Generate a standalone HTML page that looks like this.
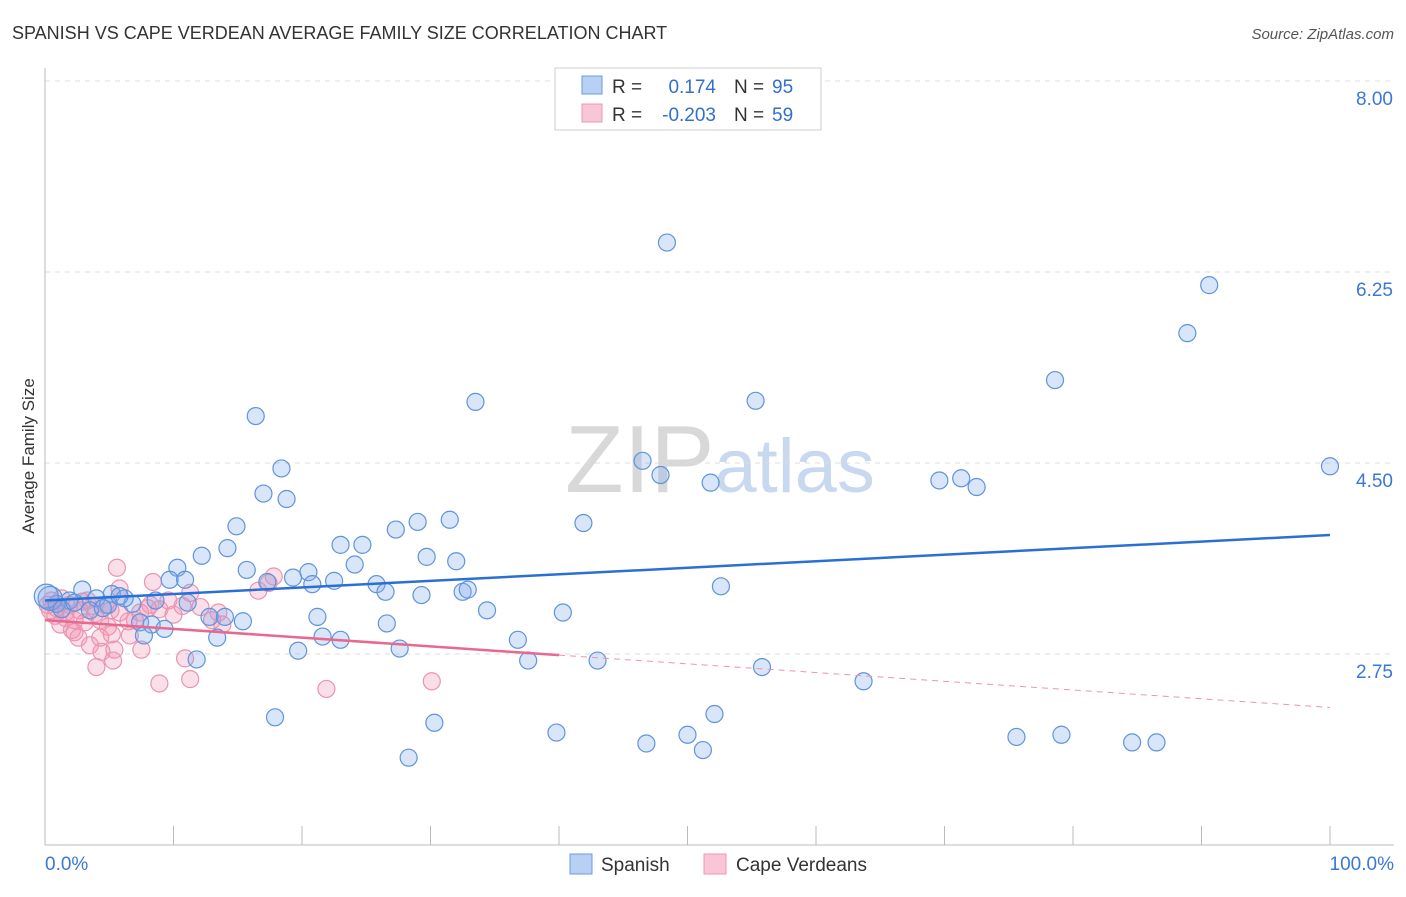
<!DOCTYPE html>
<html><head><meta charset="utf-8"><style>
body{margin:0;background:#fff;font-family:"Liberation Sans",sans-serif}
svg text{font-family:"Liberation Sans",sans-serif}
</style></head><body>
<svg id="c" width="1406" height="892">
<text x="12" y="39" font-size="18" fill="#333">SPANISH VS CAPE VERDEAN AVERAGE FAMILY SIZE CORRELATION CHART</text>
<text x="1394" y="39" font-size="15" fill="#555" font-style="italic" text-anchor="end">Source: ZipAtlas.com</text>
<text x="720" y="492" font-size="96" fill="#ddd" text-anchor="middle" font-family="Liberation Serif"><tspan fill="#d8d8d8">ZIP</tspan><tspan fill="#c8d8ee" font-family="Liberation Sans" font-size="76">atlas</tspan></text>
<text transform="translate(34,456) rotate(-90)" font-size="17" fill="#333" text-anchor="middle">Average Family Size</text>
<g id="grid"></g><g id="pts"></g><g id="lines"></g>
<g>
<rect x="555" y="68" width="266" height="62" fill="#fff" stroke="#ccc"/>
<rect x="582" y="76" width="20" height="18" fill="#b8d0f4" stroke="#6a9ce0"/>
<rect x="582" y="104" width="20" height="18" fill="#f8c6d6" stroke="#ec98b2"/>
<text x="612" y="93" font-size="19" fill="#333">R = </text><text x="716" y="93" font-size="19" fill="#2f6fd3" text-anchor="end">0.174</text>
<text x="734" y="93" font-size="19" fill="#333">N = </text><text x="772" y="93" font-size="19" fill="#2f6fd3">95</text>
<text x="612" y="121" font-size="19" fill="#333">R = </text><text x="716" y="121" font-size="19" fill="#2f6fd3" text-anchor="end">-0.203</text>
<text x="734" y="121" font-size="19" fill="#333">N = </text><text x="772" y="121" font-size="19" fill="#2f6fd3">59</text>
</g>
<g>
<rect x="570" y="854" width="22" height="20" fill="#b8d0f4" stroke="#6a9ce0"/>
<text x="601" y="871" font-size="19" fill="#333">Spanish</text>
<rect x="704" y="854" width="22" height="20" fill="#f8c6d6" stroke="#ec98b2"/>
<text x="736" y="871" font-size="19" fill="#333">Cape Verdeans</text>
</g>
</svg>
<script>
const yTicks=[8.00,6.25,4.50,2.75];
const xTickLabels=["0.0%","100.0%"];
const spanishX=[48.4,90.6,88.9,78.6,55.3,33.5,16.4,18.4,46.5,47.9,51.8,69.6,71.3,72.5,100,17.0,18.8,14.9,29.0,31.5,41.9,27.3,23.0,24.7,24.1,12.2,14.2,10.3,15.7,29.7,32.0,20.5,19.3,9.7,10.9,17.3,20.8,22.5,25.8,26.5,29.3,32.5,32.9,52.6,34.4,40.3,21.2,26.6,6.8,8.6,11.1,12.8,14.0,15.4,7.4,8.3,9.3,7.7,13.4,21.6,23.0,36.8,19.7,27.6,11.8,37.6,43.0,55.8,63.7,17.9,30.3,39.8,46.8,50.0,51.2,52.1,28.3,75.6,79.1,84.6,86.5,2.9,4.0,5.2,6.2,4.9,1.9,0.9,0.4,1.3,3.5,4.5,0.1,2.3,5.8];
const spanishY=[6.52,6.13,5.69,5.26,5.07,5.06,4.93,4.45,4.52,4.39,4.32,4.34,4.36,4.28,4.47,4.22,4.17,3.92,3.96,3.98,3.95,3.89,3.75,3.75,3.57,3.65,3.72,3.54,3.52,3.64,3.60,3.50,3.45,3.43,3.43,3.41,3.39,3.42,3.39,3.32,3.29,3.32,3.34,3.37,3.15,3.13,3.09,3.03,3.21,3.24,3.22,3.09,3.09,3.05,3.04,3.02,2.98,2.92,2.90,2.91,2.88,2.88,2.78,2.80,2.70,2.69,2.69,2.63,2.50,2.17,2.12,2.03,1.93,2.01,1.87,2.20,1.80,1.99,2.01,1.94,1.94,3.34,3.26,3.30,3.26,3.20,3.24,3.21,3.26,3.16,3.15,3.17,3.28,3.22,3.28];
const capeX=[5.6,8.4,5.8,11.3,16.6,17.4,17.8,8.2,8.9,10.0,12.1,13.5,13.8,5.1,3.9,2.7,1.6,0.8,0.4,1.2,2.1,3.1,4.3,4.9,6.5,5.2,4.3,3.5,2.6,2.3,6.6,7.5,4.4,4.0,5.3,10.9,8.9,11.3,21.9,30.1,0.5,1.3,1.9,3.3,4.7,7.4,8.0,9.6,10.7,13.0,0.9,1.6,2.9,3.7,0.2,5.8,7.0,5.4,2.3];
const capeY=[3.54,3.41,3.35,3.31,3.33,3.40,3.46,3.20,3.16,3.11,3.18,3.13,3.02,3.15,3.12,3.15,3.13,3.10,3.15,3.02,2.97,3.04,3.06,3.00,3.05,2.93,2.90,2.83,2.90,2.95,2.92,2.79,2.77,2.63,2.69,2.71,2.48,2.52,2.43,2.50,3.24,3.26,3.20,3.24,3.20,3.13,3.17,3.24,3.19,3.06,3.17,3.08,3.23,3.19,3.20,3.13,3.06,2.79,3.06];
const spanishTrend=[3.24,3.84];
const capeTrend=[3.06,2.26];
const NS="http://www.w3.org/2000/svg";
const X=v=>45+v*12.85, Y=v=>654-(v-2.75)*109.14;
function mk(p,t,a){const e=document.createElementNS(NS,t);for(const k in a)e.setAttribute(k,a[k]);p.appendChild(e);return e;}
const g=document.getElementById('grid');
yTicks.forEach(t=>{const l=mk(g,'line',{x1:45,x2:1394,y1:Y(t),y2:Y(t),stroke:'#ddd','stroke-dasharray':'5,5'});


const tx=mk(g,'text',{x:1393,y:Y(t)+24,'font-size':19,fill:'#3a78d6','text-anchor':'end'});tx.textContent=t.toFixed(2);

});
mk(g,'line',{x1:45,x2:45,y1:68,y2:845,stroke:'#bbb'});
mk(g,'line',{x1:45,x2:1394,y1:845,y2:845,stroke:'#bbb'});
for(let i=0;i<=10;i++){mk(g,'line',{x1:X(i*10),x2:X(i*10),y1:826,y2:845,stroke:'#bbb'});}
[[0,'start',45],[1,'end',1394]].forEach(([i,a,x])=>{const t=mk(g,'text',{x:x,y:870,'font-size':19,fill:'#3a78d6','text-anchor':a});t.textContent=xTickLabels[i];

});
const P=document.getElementById('pts');
capeX.forEach((v,i)=>{const c=mk(P,'circle',{cx:X(v),cy:Y(capeY[i]),r:8.5,fill:'rgba(242,150,180,0.3)',stroke:'#eb94b0','stroke-width':1.2});

});
spanishX.forEach((v,i)=>{const c=mk(P,'circle',{cx:X(v),cy:Y(spanishY[i]),r:v<0.5?12:8.5,fill:'rgba(130,170,235,0.3)',stroke:'#5f94dc','stroke-width':1.2});

});
const L=document.getElementById('lines');
const lerp=(t,x)=>t[0]+(t[1]-t[0])*x/100;
const b=mk(L,'line',{x1:X(0),y1:Y(spanishTrend[0]),x2:X(100),y2:Y(spanishTrend[1]),stroke:'#2a6fd6','stroke-width':2.5});


const p1=mk(L,'line',{x1:X(0),y1:Y(capeTrend[0]),x2:X(40),y2:Y(lerp(capeTrend,40)),stroke:'#e8688f','stroke-width':2.5});


const p2=mk(L,'line',{x1:X(40),y1:Y(lerp(capeTrend,40)),x2:X(100),y2:Y(capeTrend[1]),stroke:'#eb94b0','stroke-width':1,'stroke-dasharray':'6,5'});


</script>
</body></html>
